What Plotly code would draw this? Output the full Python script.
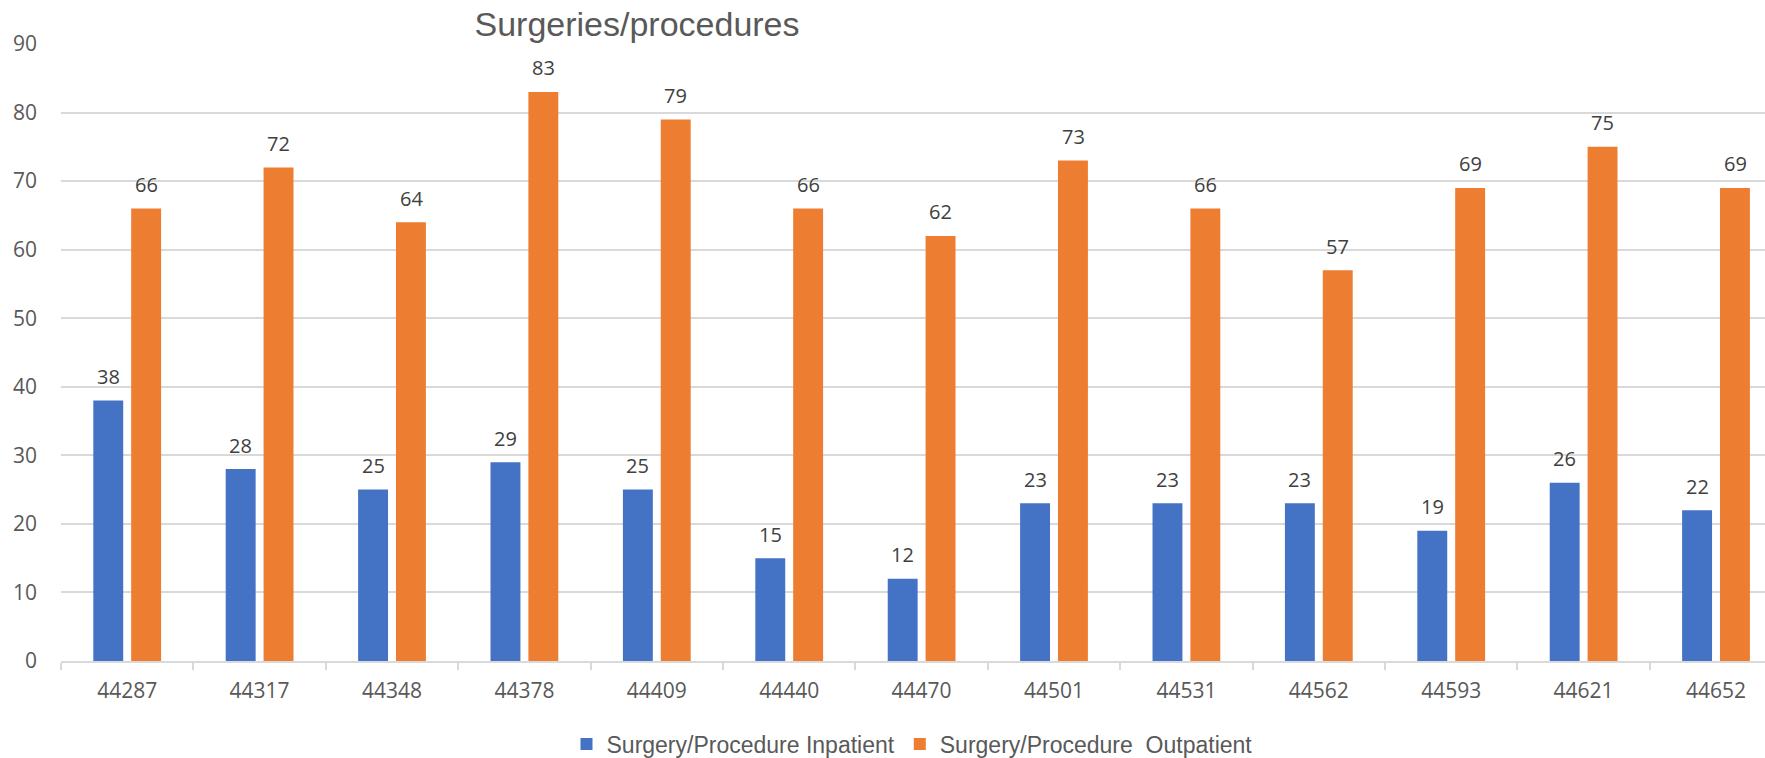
import plotly.graph_objects as go

categories = ["44287", "44317", "44348", "44378", "44409", "44440", "44470",
              "44501", "44531", "44562", "44593", "44621", "44652"]
inpatient = [38, 28, 25, 29, 25, 15, 12, 23, 23, 23, 19, 26, 22]
outpatient = [66, 72, 64, 83, 79, 66, 62, 73, 66, 57, 69, 75, 69]
series_names = ["Surgery/Procedure Inpatient", "Surgery/Procedure  Outpatient"]
colors = ["#4472C4", "#ED7D31"]
title_text = "Surgeries/procedures"

NARROW = "Liberation Sans Narrow, Arial Narrow, Liberation Sans, sans-serif"
NUMF = "Open Sans, DejaVu Sans, sans-serif"

W, H = 1765, 758

fig = go.Figure()
for name, vals, col in zip(series_names, [inpatient, outpatient], colors):
    fig.add_trace(go.Bar(x=categories, y=vals, name=name, marker_color=col,
                         marker_line_width=0))

annotations = []
for vals, shift in [(inpatient, -19), (outpatient, 19)]:
    for i, v in enumerate(vals):
        annotations.append(dict(x=i, y=v, xref="x", yref="y", text=str(v),
                                showarrow=False, xshift=shift, yshift=24,
                                yanchor="middle",
                                font=dict(family=NUMF, size=20, color="#404040")))

fig.update_layout(
    width=W, height=H,
    paper_bgcolor="white", plot_bgcolor="white",
    margin=dict(l=61, r=0, t=44, b=97),
    barmode="group", bargap=0.428, bargroupgap=0.21,
    title=dict(text=title_text, x=637 / W, xanchor="center", xref="container",
               y=1 - 24 / H, yanchor="middle",
               font=dict(family=NARROW, size=34, color="#595959")),
    legend=dict(orientation="h", x=912 / W, xanchor="center", xref="container",
                y=(H - 744) / H, yanchor="middle", yref="container",
                font=dict(family=NARROW, size=23, color="#595959")),
    annotations=annotations,
)

fig.update_xaxes(type="category", range=[-0.5, 12.37], showline=True,
                 linecolor="#d9d9d9", linewidth=1.5, ticks="outside",
                 tickson="boundaries", ticklen=7, tickcolor="#d9d9d9",
                 tickwidth=1.5, showgrid=False, ticklabelstandoff=10,
                 tickfont=dict(family=NUMF, size=21, color="#595959"))
fig.update_yaxes(range=[0, 90], dtick=10, showgrid=True, gridcolor="#d9d9d9",
                 gridwidth=1.5, zeroline=False, ticks="",
                 ticklabelstandoff=23,
                 tickfont=dict(family=NUMF, size=21, color="#595959"))

fig.write_html("out.html", config={"displayModeBar": False},
               post_script="document.body.style.margin='0px';")
